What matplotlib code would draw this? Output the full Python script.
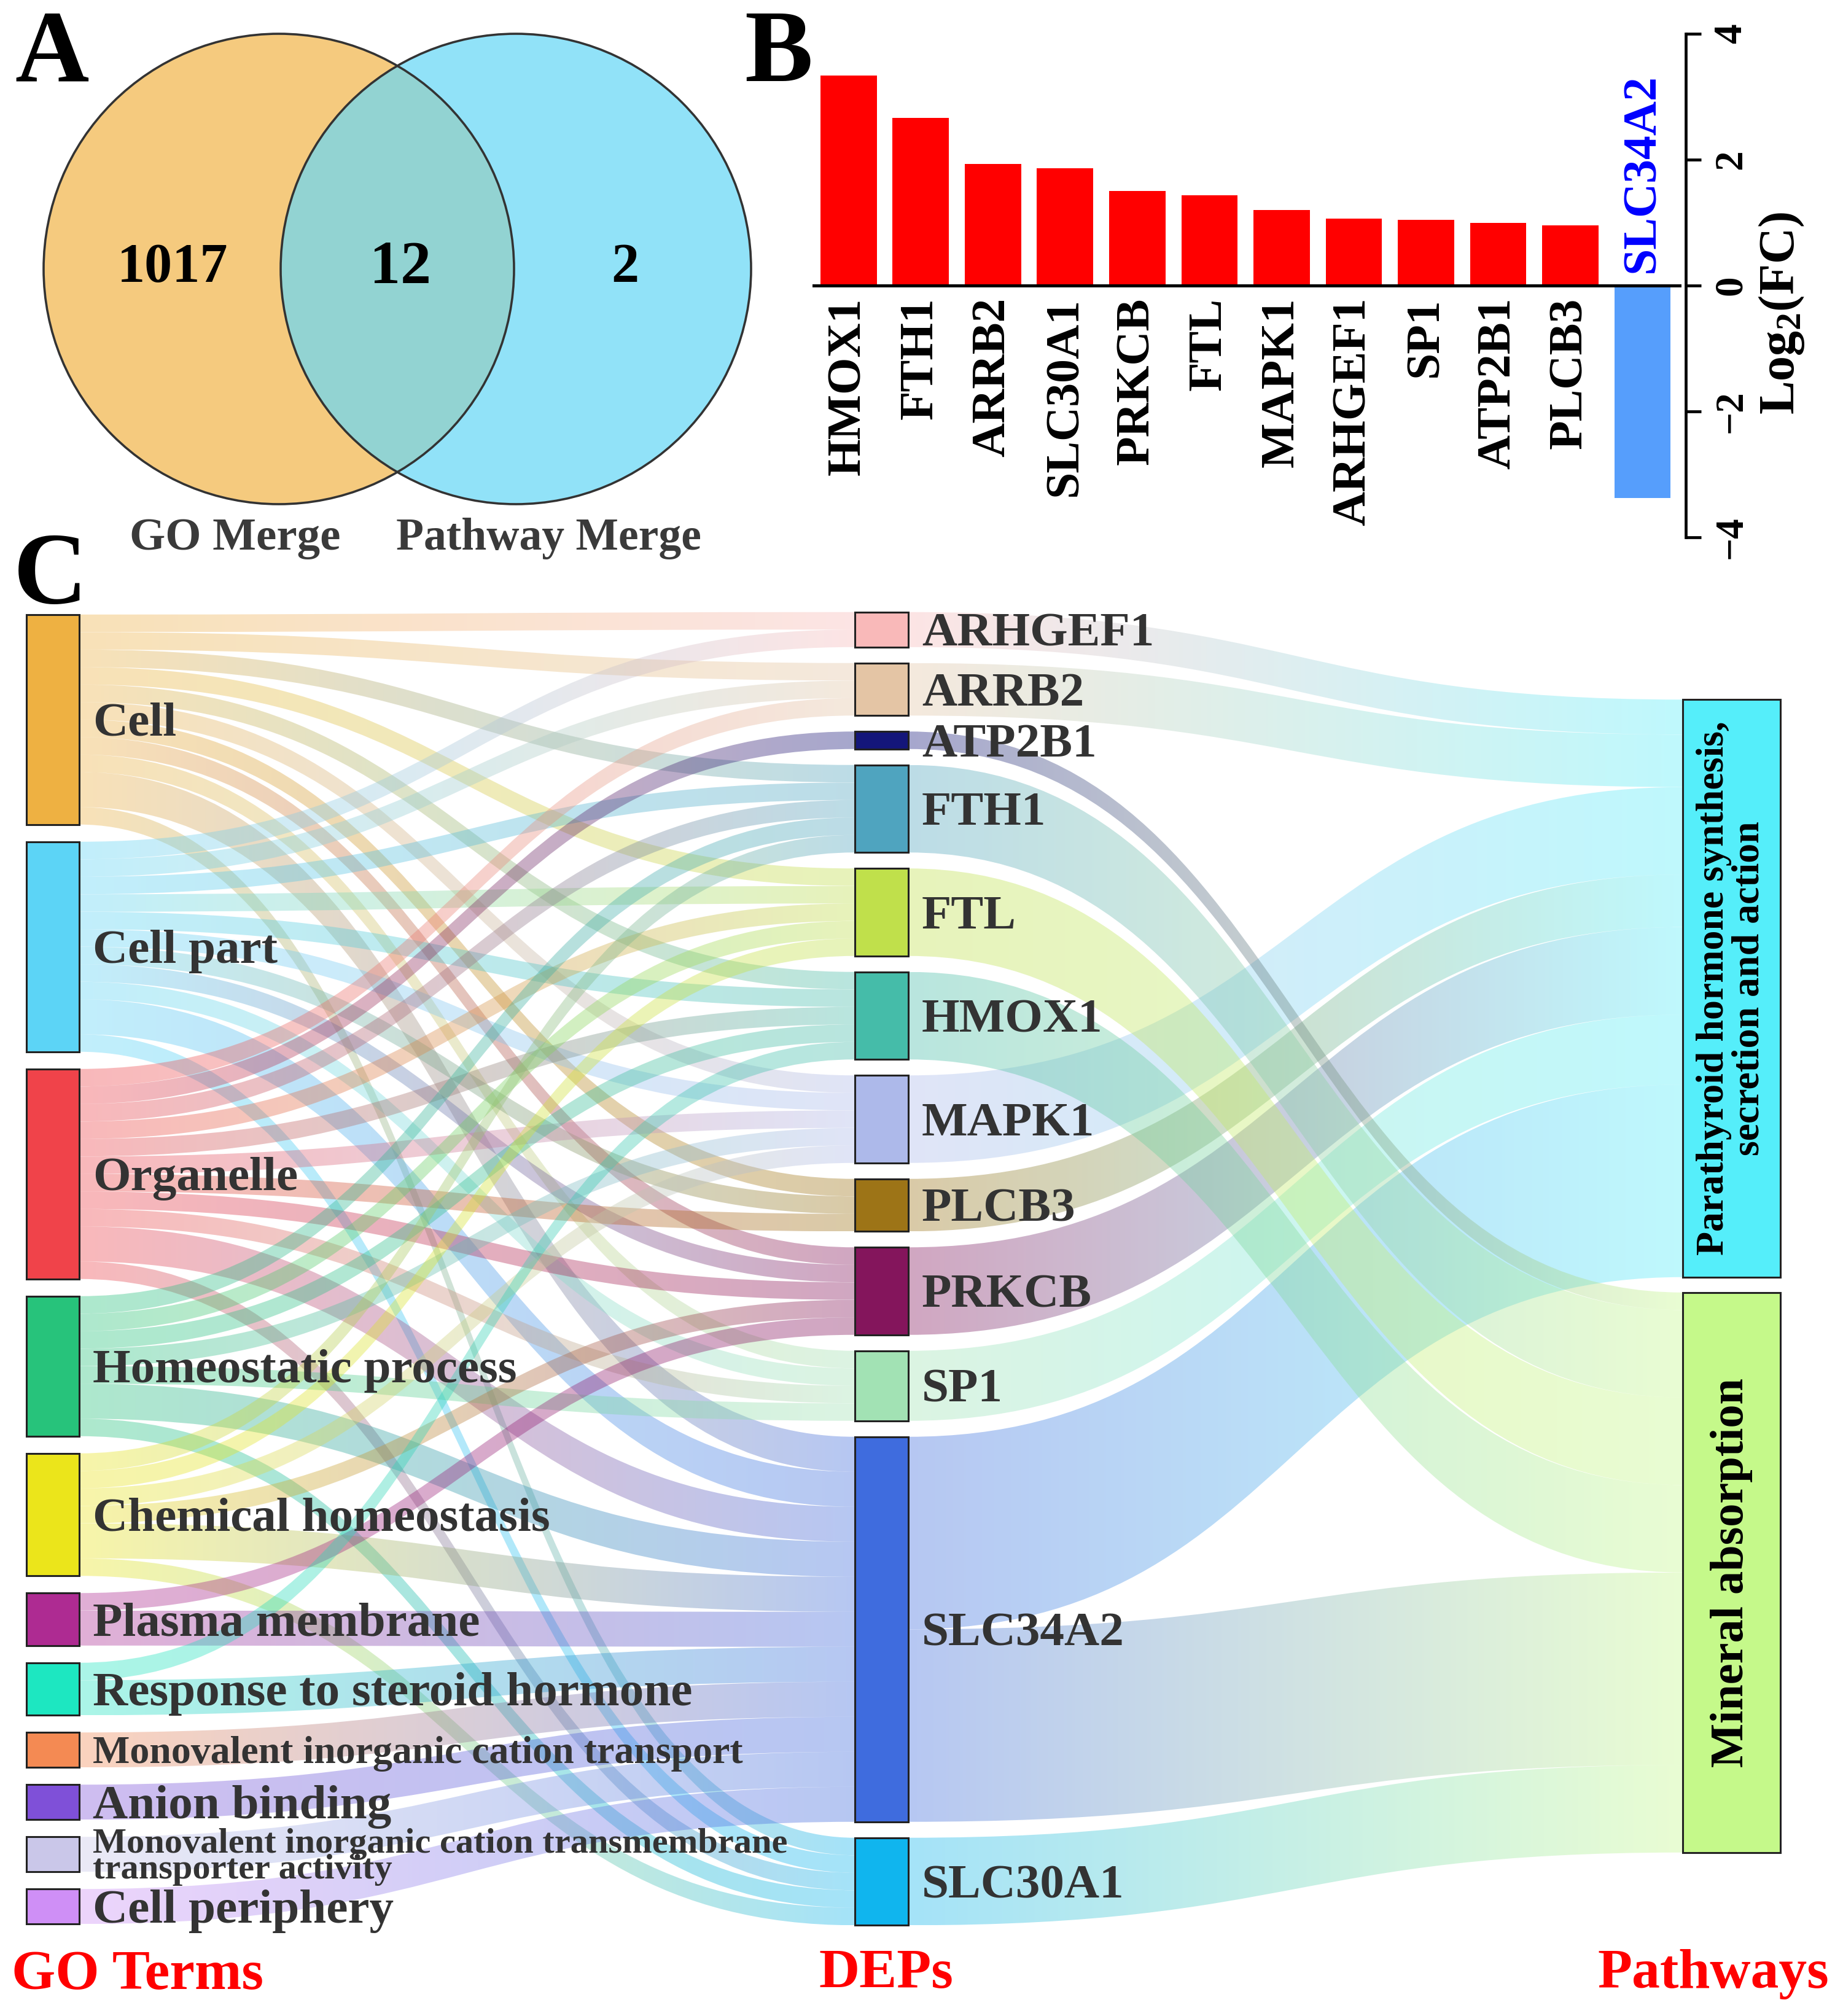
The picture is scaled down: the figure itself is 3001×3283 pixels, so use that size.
import numpy as np
import matplotlib
matplotlib.use('Agg')
import matplotlib.pyplot as plt
from matplotlib.patches import Circle, Rectangle, PathPatch
from matplotlib.path import Path
from matplotlib.colors import to_rgb

plt.rcParams['font.family'] = ['Liberation Serif', 'DejaVu Serif']
plt.rcParams['font.weight'] = 'bold'
plt.rcParams['mathtext.fontset'] = 'custom'
plt.rcParams['mathtext.rm'] = 'Liberation Serif:bold'
plt.rcParams['mathtext.bf'] = 'Liberation Serif:bold'
plt.rcParams['mathtext.it'] = 'Liberation Serif:bold'

# === A: Venn ===
venn_labels = ['GO Merge', 'Pathway Merge']
venn_counts = [1017, 12, 2]   # solo GO, comune, solo pathway

# === B: Log2(FC) ===
fc_genes = ['HMOX1', 'FTH1', 'ARRB2', 'SLC30A1', 'PRKCB', 'FTL', 'MAPK1',
            'ARHGEF1', 'SP1', 'ATP2B1', 'PLCB3', 'SLC34A2']
fc_values = [3.34, 2.66, 1.93, 1.86, 1.50, 1.43, 1.20, 1.06, 1.04, 1.00, 0.96, -3.38]

# === C: GO terms -> DEPs -> pathways ===
go_terms = ['Cell', 'Cell part', 'Organelle', 'Homeostatic process',
            'Chemical homeostasis', 'Plasma membrane', 'Response to steroid hormone',
            'Monovalent inorganic cation transport', 'Anion binding',
            'Monovalent inorganic cation transmembrane\ntransporter activity',
            'Cell periphery']
go_colors = ['#EEB142', '#5CD4F6', '#F0434A', '#27C37B', '#EBE51B', '#AE2B92',
             '#1DE7C1', '#F48A53', '#7F50D8', '#CAC7E9', '#CF8FF6']
go_genes = [
    ['ARHGEF1', 'ARRB2', 'FTH1', 'FTL', 'HMOX1', 'MAPK1', 'PLCB3', 'PRKCB', 'SP1', 'SLC34A2', 'SLC30A1'],
    ['ARHGEF1', 'ARRB2', 'FTH1', 'FTL', 'HMOX1', 'MAPK1', 'PLCB3', 'PRKCB', 'SP1', 'SLC34A2', 'SLC30A1'],
    ['ARRB2', 'ATP2B1', 'FTH1', 'FTL', 'HMOX1', 'MAPK1', 'PLCB3', 'PRKCB', 'SP1', 'SLC34A2', 'SLC30A1'],
    ['FTH1', 'FTL', 'HMOX1', 'MAPK1', 'SP1', 'SLC34A2', 'SLC30A1'],
    ['FTH1', 'FTL', 'MAPK1', 'PRKCB', 'SLC34A2', 'SLC30A1'],
    ['PRKCB', 'SLC34A2'],
    ['HMOX1', 'SLC34A2'],
    ['SLC34A2'],
    ['SLC34A2'],
    ['SLC34A2'],
    ['SLC34A2'],
]
dep_names = ['ARHGEF1', 'ARRB2', 'ATP2B1', 'FTH1', 'FTL', 'HMOX1', 'MAPK1',
             'PLCB3', 'PRKCB', 'SP1', 'SLC34A2', 'SLC30A1']
dep_colors = ['#F9B9B9', '#E4C5A5', '#14167A', '#4FA4BF', '#C0E04B', '#45BCA9',
              '#ADB9EA', '#9D7417', '#84155C', '#A2E2B4', '#3F6CDE', '#10B5EE']
pathways = ['Parathyroid hormone synthesis,\nsecretion and action', 'Mineral absorption']
pathway_colors = ['#55EEFA', '#C5F98A']
pathway_genes = [
    ['ARHGEF1', 'ARRB2', 'MAPK1', 'PLCB3', 'PRKCB', 'SP1', 'SLC34A2'],
    ['ATP2B1', 'FTH1', 'FTL', 'HMOX1', 'SLC34A2', 'SLC30A1'],
]

W, H = 3001, 3283
fig = plt.figure(figsize=(W / 100, H / 100), dpi=100)
ax = fig.add_axes([0, 0, 1, 1])
ax.set_axis_off()

TXT = '#333333'

# ---------------- Panel A ----------------
r = 383
cl, cr = (454, 438), (840, 438)
ax.add_patch(Circle(cl, r, facecolor='#F5CA7E', edgecolor='none', zorder=1))
ax.add_patch(Circle(cr, r, facecolor='#91E2F8', edgecolor='none', zorder=1))
inter = Circle(cr, r, facecolor='#92D3D2', edgecolor='none', zorder=2)
ax.add_patch(inter)
inter.set_clip_path(Circle(cl, r, transform=ax.transData))
for c in (cl, cr):
    ax.add_patch(Circle(c, r, facecolor='none', edgecolor='#333333', lw=2.6, zorder=3))
ax.text(281, 459, str(venn_counts[0]), fontsize=65, ha='center', va='baseline', zorder=4)
ax.text(652, 461, str(venn_counts[1]), fontsize=72, ha='center', va='baseline', zorder=4)
ax.text(1018, 459, str(venn_counts[2]), fontsize=65, ha='center', va='baseline', zorder=4)
ax.text(383, 895, venn_labels[0], fontsize=54, ha='center', va='baseline', color='#3a3a3a')
ax.text(893, 895, venn_labels[1], fontsize=53, ha='center', va='baseline', color='#3a3a3a')

# lettere dei pannelli
ax.text(24, 132, 'A', fontsize=120, ha='left', va='baseline')
ax.text(1212, 132, 'B', fontsize=120, ha='left', va='baseline')
ax.text(22, 982, 'C', fontsize=120, ha='left', va='baseline')

# ---------------- Panel C: sankey ----------------
UNIT = 28.5
ALPHA = 0.38
col_x = [(43, 129), (1392, 1479), (2740, 2899)]
col_gap = [28, 26, 25]
col_center = [2067, 2066, 2078]

n_path = {g: sum(g in gs for gs in pathway_genes) for g in dep_names}
n_go = {g: sum(g in gs for gs in go_genes) for g in dep_names}

links1 = [(i, dep_names.index(g), n_path[g]) for i, gs in enumerate(go_genes) for g in gs]
links2 = [(dep_names.index(g), k, n_go[g]) for k, gs in enumerate(pathway_genes) for g in gs]

val_go = [sum(v for i, j, v in links1 if i == n) for n in range(len(go_terms))]
val_dep = [sum(v for i, j, v in links1 if j == n) for n in range(len(dep_names))]
val_path = [sum(v for i, j, v in links2 if j == n) for n in range(len(pathways))]


def stack(values, center, gap):
    total = sum(values) * UNIT + (len(values) - 1) * gap
    y = center - total / 2
    tops = []
    for v in values:
        tops.append(y)
        y += v * UNIT + gap
    return tops


tops_go = stack(val_go, col_center[0], col_gap[0])
tops_dep = stack(val_dep, col_center[1], col_gap[1])
tops_path = stack(val_path, col_center[2], col_gap[2])


def link_offsets(links, src_tops, dst_tops):
    ys, yd = {}, {}
    for side in ('src', 'dst'):
        groups = {}
        for n, (i, j, v) in enumerate(links):
            key = i if side == 'src' else j
            groups.setdefault(key, []).append(n)
        for key, ns in groups.items():
            if side == 'src':
                ns.sort(key=lambda n: dst_tops[links[n][1]])
                y = src_tops[key]
            else:
                ns.sort(key=lambda n: src_tops[links[n][0]])
                y = dst_tops[key]
            for n in ns:
                (ys if side == 'src' else yd)[n] = y
                y += links[n][2] * UNIT
    return ys, yd


def band(x0, x1, y0, y1, h, c0, c1):
    xm = (x0 + x1) / 2
    verts = [(x0, y0), (xm, y0), (xm, y1), (x1, y1),
             (x1, y1 + h), (xm, y1 + h), (xm, y0 + h), (x0, y0 + h), (x0, y0)]
    codes = [Path.MOVETO, Path.CURVE4, Path.CURVE4, Path.CURVE4,
             Path.LINETO, Path.CURVE4, Path.CURVE4, Path.CURVE4, Path.CLOSEPOLY]
    patch = PathPatch(Path(verts, codes), facecolor='none', edgecolor='none')
    ax.add_patch(patch)
    t = np.linspace(0, 1, 128)
    a, b = np.array(to_rgb(c0)), np.array(to_rgb(c1))
    grad = np.zeros((1, 128, 4))
    grad[0, :, :3] = a[None, :] * (1 - t[:, None]) + b[None, :] * t[:, None]
    grad[0, :, 3] = ALPHA
    ymin, ymax = min(y0, y1), max(y0, y1) + h
    im = ax.imshow(grad, extent=(x0, x1, ymax, ymin), aspect='auto',
                   interpolation='bilinear', zorder=1)
    im.set_clip_path(patch)


ys1, yd1 = link_offsets(links1, tops_go, tops_dep)
for n, (i, j, v) in enumerate(links1):
    band(col_x[0][1], col_x[1][0], ys1[n], yd1[n], v * UNIT, go_colors[i], dep_colors[j])

ys2, yd2 = link_offsets(links2, tops_dep, tops_path)
for n, (i, j, v) in enumerate(links2):
    band(col_x[1][1], col_x[2][0], ys2[n], yd2[n], v * UNIT, dep_colors[i], pathway_colors[j])


def nodes(tops, vals, colors, cx):
    for t, v, c in zip(tops, vals, colors):
        ax.add_patch(Rectangle((cx[0], t), cx[1] - cx[0], v * UNIT, facecolor=c,
                               edgecolor='#222222', lw=2.2, zorder=3))


nodes(tops_go, val_go, go_colors, col_x[0])
nodes(tops_dep, val_dep, dep_colors, col_x[1])
nodes(tops_path, val_path, pathway_colors, col_x[2])

label_size = {'Monovalent inorganic cation transport': 46,
              'Monovalent inorganic cation transmembrane\ntransporter activity': 42}
for t, v, name in zip(tops_go, val_go, go_terms):
    fs = label_size.get(name, 57)
    yc = t + v * UNIT / 2
    if '\n' in name:
        ax.text(151, yc + 4, name, fontsize=fs, ha='left', va='center', color=TXT,
                linespacing=0.74, zorder=4)
    else:
        ax.text(151, yc + 0.33 * fs / 0.72, name, fontsize=fs, ha='left',
                va='baseline', color=TXT, zorder=4)

for t, v, name in zip(tops_dep, val_dep, dep_names):
    yc = t + v * UNIT / 2
    ax.text(1501, yc + 0.33 * 57 / 0.72, name, fontsize=57, ha='left',
            va='baseline', color=TXT, zorder=4)

path_size = [46, 55]
for t, v, name, fs in zip(tops_path, val_path, pathways, path_size):
    yc = t + v * UNIT / 2
    ax.text(sum(col_x[2]) / 2, yc, name, fontsize=fs, rotation=90, ha='center',
            va='center', multialignment='center', linespacing=1.0, color='black', zorder=4)

ax.text(19, 3239, 'GO Terms', fontsize=66, color='#FF0000', ha='left', va='baseline')
ax.text(1333, 3237, 'DEPs', fontsize=66, color='#FF0000', ha='left', va='baseline')
ax.text(2601, 3237, 'Pathways', fontsize=66, color='#FF0000', ha='left', va='baseline')

ax.set_xlim(0, W)
ax.set_ylim(H, 0)

# ---------------- Panel B ----------------
bx0, bx1, by_top, by_bot = 1323, 2745, 55, 875
axb = fig.add_axes([bx0 / W, 1 - by_bot / H, (bx1 - bx0) / W, (by_bot - by_top) / H])
xs = np.arange(len(fc_genes))
bar_colors = ['#FF0000' if v > 0 else '#569EFC' for v in fc_values]
axb.bar(xs, fc_values, width=0.78, color=bar_colors, zorder=2)
axb.set_xlim(-0.5, 11.6)
axb.set_ylim(-4, 4)
axb.axhline(0, xmin=0, xmax=0.993, color='black', lw=3.6, zorder=3)
for sp in ('left', 'top', 'bottom'):
    axb.spines[sp].set_visible(False)
axb.spines['right'].set_linewidth(3.4)
axb.set_xticks([])
axb.yaxis.tick_right()
axb.set_yticks([-4, -2, 0, 2, 4])
axb.tick_params(axis='y', length=18, width=3.4, pad=14, labelsize=47, labelrotation=90)
for lbl in axb.get_yticklabels():
    lbl.set_va('center')
for x, g, v in zip(xs, fc_genes, fc_values):
    if v > 0:
        axb.annotate(g, (x, 0), xytext=(0, -14), textcoords='offset points', rotation=90,
                     ha='center', va='top', fontsize=56, color='black')
    else:
        axb.annotate(g, (x, 0), xytext=(0, 15), textcoords='offset points', rotation=90,
                     ha='center', va='bottom', fontsize=56, color='#0000FF')
axb.text(1.11, 0.445, 'Log$_2$(FC)', transform=axb.transAxes, rotation=90,
         ha='center', va='center', fontsize=59)
axb.patch.set_alpha(0)

fig.savefig('out.png', dpi=100)
